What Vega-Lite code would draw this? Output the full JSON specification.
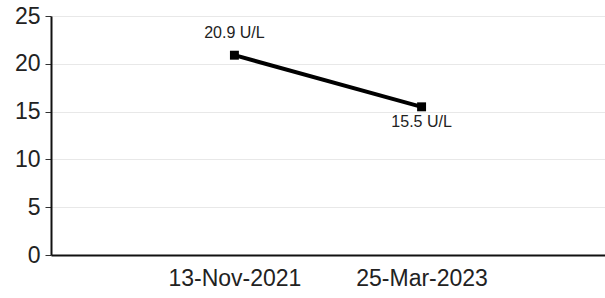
{
  "$schema": "https://vega.github.io/schema/vega-lite/v6.json",
  "width": 554,
  "height": 239,
  "autosize": "none",
  "padding": {"left": 51, "top": 16, "right": 0, "bottom": 43},
  "background": "white",
  "config": {
    "font": "Liberation Sans",
    "view": {"stroke": null}
  },
  "data": {
    "values": [
      {"date": "13-Nov-2021", "value": 20.9, "label": "20.9 U/L"},
      {"date": "25-Mar-2023", "value": 15.5, "label": "15.5 U/L"}
    ]
  },
  "encoding": {
    "x": {
      "field": "date",
      "type": "ordinal",
      "sort": null,
      "scale": {"type": "point", "padding": 0.98},
      "axis": {
        "title": null,
        "labelAngle": 0,
        "labelFontSize": 23,
        "labelColor": "#222222",
        "labelPadding": 12,
        "ticks": false,
        "domainColor": "#111111",
        "domainWidth": 2,
        "grid": false
      }
    },
    "y": {
      "field": "value",
      "type": "quantitative",
      "scale": {"domain": [0, 25], "nice": false},
      "axis": {
        "title": null,
        "values": [0, 5, 10, 15, 20, 25],
        "labelFontSize": 23,
        "labelColor": "#222222",
        "labelPadding": 5,
        "tickSize": 6,
        "tickColor": "#333333",
        "tickWidth": 1,
        "domainColor": "#111111",
        "domainWidth": 2,
        "grid": true,
        "gridColor": "#e8e8e8",
        "gridWidth": 1
      }
    }
  },
  "layer": [
    {
      "mark": {"type": "line", "color": "#000000", "strokeWidth": 4},
      "encoding": {}
    },
    {
      "mark": {"type": "square", "color": "#000000", "size": 80, "opacity": 1, "filled": true},
      "encoding": {}
    },
    {
      "transform": [{"filter": "datum.date === '13-Nov-2021'"}],
      "mark": {"type": "text", "fontSize": 16, "color": "#222222", "dy": -17, "baseline": "alphabetic", "align": "center"},
      "encoding": {"text": {"field": "label"}}
    },
    {
      "transform": [{"filter": "datum.date === '25-Mar-2023'"}],
      "mark": {"type": "text", "fontSize": 16, "color": "#222222", "dy": 20, "baseline": "alphabetic", "align": "center"},
      "encoding": {"text": {"field": "label"}}
    }
  ]
}
